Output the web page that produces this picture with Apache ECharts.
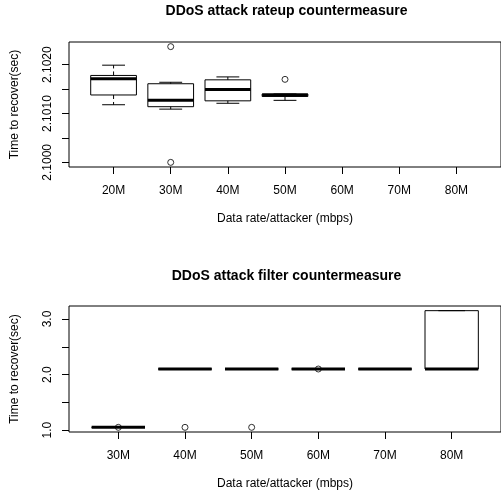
<!DOCTYPE html>
<html>
<head>
<meta charset="utf-8">
<script src="https://cdn.jsdelivr.net/npm/echarts@6/dist/echarts.min.js"></script>
<style>
  html, body { margin: 0; padding: 0; background: #fff; }
  #main { width: 501px; height: 495px; }
</style>
</head>
<body>
<div id="main"></div>
<script>
(function () {
    "use strict";

    // top panel: rateup countermeasure
    var rateCategories = ['20M', '30M', '40M', '50M', '60M', '70M', '80M'];
    var rateLow    = [2.10118, 2.10109, 2.10121, 2.10127];
    var rateQ1     = [2.10138, 2.10114, 2.10126, 2.10135];
    var rateMedian = [2.10171, 2.10127, 2.10149, 2.10138];
    var rateQ3     = [2.10178, 2.10161, 2.10169, 2.10140];
    var rateHigh   = [2.10199, 2.10164, 2.10175, 2.10140];
    var rateOutliers = [[2, 2.10237], [2, 2.10000], [4, 2.10170]];
    var rateTicks  = [2.1000, 2.1005, 2.1010, 2.1015, 2.1020];
    var rateLabels = [2.1000, 2.1010, 2.1020];

    // bottom panel: filter countermeasure
    var filterCategories = ['30M', '40M', '50M', '60M', '70M', '80M'];
    var filterLow    = [1.05, 2.10, 2.10, 2.10, 2.10, 2.10];
    var filterQ1     = [1.05, 2.10, 2.10, 2.10, 2.10, 2.10];
    var filterMedian = [1.05, 2.10, 2.10, 2.10, 2.10, 2.10];
    var filterQ3     = [1.05, 2.10, 2.10, 2.10, 2.10, 3.15];
    var filterHigh   = [1.05, 2.10, 2.10, 2.10, 2.10, 3.15];
    var filterOutliers = [[1, 1.05], [2, 1.05], [3, 1.05], [4, 2.10]];
    var filterTicks  = [1.0, 1.5, 2.0, 2.5, 3.0];
    var filterLabels = [1.0, 2.0, 3.0];

    var font = 'Liberation Sans, Arial, sans-serif';

    // rows of [position, low, q1, median, q3, high]
    function boxRows(low, q1, med, q3, high) {
        return low.map(function (v, i) {
            return [i + 1, v, q1[i], med[i], q3[i], high[i]];
        });
    }

    // R keeps 4% extra on each side of the data range
    function padRange(lo, hi) {
        var d = (hi - lo) * 0.04;
        return [lo - d, hi + d];
    }

    function positions(n) {
        var out = [];
        for (var i = 1; i <= n; i++) out.push(i);
        return out;
    }

    // box, dashed whiskers, half-width staples and thick median, as in R boxplot()
    function renderBox(params, api) {
        var x = api.value(0);
        var low = api.coord([x, api.value(1)]);
        var q1 = api.coord([x, api.value(2)]);
        var med = api.coord([x, api.value(3)]);
        var q3 = api.coord([x, api.value(4)]);
        var high = api.coord([x, api.value(5)]);
        var w = api.size([0.8, 0])[0];
        var cx = low[0];
        var solid = { stroke: '#000', lineWidth: 1 };
        var dashed = { stroke: '#000', lineWidth: 1, lineDash: [4, 3] };
        return {
            type: 'group',
            children: [
                { type: 'line', shape: { x1: cx, y1: q3[1], x2: cx, y2: high[1] }, style: dashed },
                { type: 'line', shape: { x1: cx, y1: q1[1], x2: cx, y2: low[1] }, style: dashed },
                { type: 'line', shape: { x1: cx - w / 4, y1: high[1], x2: cx + w / 4, y2: high[1] }, style: solid },
                { type: 'line', shape: { x1: cx - w / 4, y1: low[1], x2: cx + w / 4, y2: low[1] }, style: solid },
                { type: 'rect', shape: { x: cx - w / 2, y: q3[1], width: w, height: q1[1] - q3[1] },
                  style: { stroke: '#000', lineWidth: 1, fill: 'none' } },
                { type: 'line', shape: { x1: cx - w / 2, y1: med[1], x2: cx + w / 2, y2: med[1] },
                  style: { stroke: '#000', lineWidth: 3 } }
            ]
        };
    }

    function xAxisFor(idx, cats) {
        var n = cats.length;
        var r = padRange(0.5, n + 0.5);
        return {
            type: 'value',
            gridIndex: idx,
            min: r[0],
            max: r[1],
            axisLine: { show: false },
            splitLine: { show: false },
            axisTick: { show: true, length: 7, customValues: positions(n), lineStyle: { color: '#000' } },
            axisLabel: {
                customValues: positions(n),
                formatter: function (v) { return cats[Math.round(v) - 1]; },
                margin: 18, fontSize: 12, color: '#000', fontFamily: font
            },
            name: 'Data rate/attacker (mbps)',
            nameLocation: 'middle',
            nameGap: 46,
            nameTextStyle: { fontSize: 12, color: '#000', fontFamily: font, verticalAlign: 'top' }
        };
    }

    function yAxisFor(idx, range, ticks, labels, digits) {
        return {
            type: 'value',
            gridIndex: idx,
            min: range[0],
            max: range[1],
            axisLine: { show: false },
            splitLine: { show: false },
            axisTick: { show: true, length: 7, customValues: ticks, lineStyle: { color: '#000' } },
            axisLabel: {
                customValues: labels,
                rotate: 90,
                formatter: function (v) { return v.toFixed(digits); },
                margin: 15, fontSize: 12, color: '#000', fontFamily: font
            },
            name: 'Time to recover(sec)',
            nameLocation: 'middle',
            nameGap: 48,
            nameTextStyle: { fontSize: 12, color: '#000', fontFamily: font }
        };
    }

    var rateRange = padRange(2.10000, 2.10237);
    var filterRange = padRange(1.05, 3.15);

    var chart = echarts.init(document.getElementById('main'));

    var option = {
        backgroundColor: '#fff',
        animation: false,
        title: [{
            text: 'DDoS attack rateup countermeasure',
            left: 286.5, top: 4, textAlign: 'center', padding: 0,
            textStyle: { fontSize: 14, fontWeight: 'bold', color: '#000', fontFamily: font }
        }, {
            text: 'DDoS attack filter countermeasure',
            left: 286.5, top: 269, textAlign: 'center', padding: 0,
            textStyle: { fontSize: 14, fontWeight: 'bold', color: '#000', fontFamily: font }
        }],
        grid: [
            { left: 69, top: 42, width: 435, height: 125, show: true, borderColor: '#000', borderWidth: 1, backgroundColor: 'transparent' },
            { left: 69, top: 306, width: 435, height: 126, show: true, borderColor: '#000', borderWidth: 1, backgroundColor: 'transparent' }
        ],
        xAxis: [xAxisFor(0, rateCategories), xAxisFor(1, filterCategories)],
        yAxis: [
            yAxisFor(0, rateRange, rateTicks, rateLabels, 4),
            yAxisFor(1, filterRange, filterTicks, filterLabels, 1)
        ],
        series: [{
            type: 'custom',
            xAxisIndex: 0, yAxisIndex: 0,
            renderItem: renderBox,
            encode: { x: 0, y: [1, 2, 3, 4, 5] },
            data: boxRows(rateLow, rateQ1, rateMedian, rateQ3, rateHigh)
        }, {
            type: 'scatter',
            xAxisIndex: 0, yAxisIndex: 0,
            symbol: 'circle', symbolSize: 6,
            itemStyle: { color: 'transparent', borderColor: '#000', borderWidth: 1 },
            data: rateOutliers
        }, {
            type: 'custom',
            xAxisIndex: 1, yAxisIndex: 1,
            renderItem: renderBox,
            encode: { x: 0, y: [1, 2, 3, 4, 5] },
            data: boxRows(filterLow, filterQ1, filterMedian, filterQ3, filterHigh)
        }, {
            type: 'scatter',
            xAxisIndex: 1, yAxisIndex: 1,
            symbol: 'circle', symbolSize: 6,
            itemStyle: { color: 'transparent', borderColor: '#000', borderWidth: 1 },
            data: filterOutliers
        }]
    };

    chart.setOption(option);
})();
</script>
</body>
</html>
